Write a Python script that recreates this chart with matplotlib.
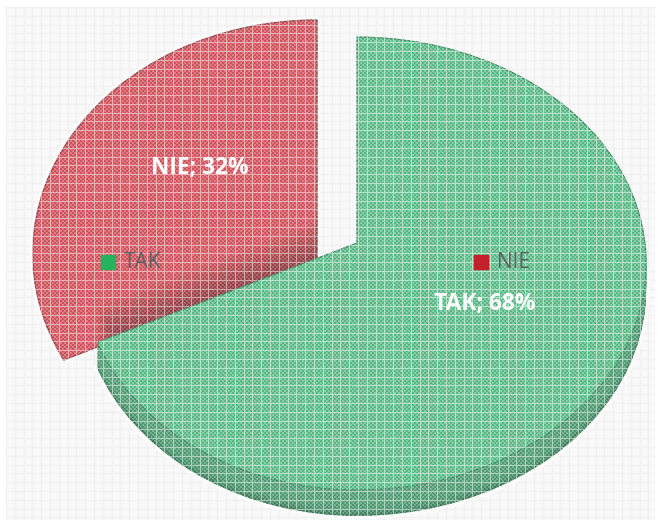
#!/usr/bin/env python3
import numpy as np
import matplotlib
matplotlib.use("Agg")
import matplotlib.pyplot as plt
from matplotlib.patches import Rectangle
from matplotlib.transforms import Affine2D, Transform

categories = ["TAK", "NIE"]
shares = [68, 32]
slice_labels = ["TAK; 68%", "NIE; 32%"]
slice_colors = ["#6ccb98", "#e2636c"]
legend_colors = ["#27b35e", "#c5202a"]

W, H = 660, 526
GRID = 8.8


class Perspective(Transform):
    """Tilt the unit-circle pie into pixel space, near edge bigger than far edge."""
    input_dims = output_dims = 2

    def __init__(self, cx, cy, kx_left, kx_right, ky, c):
        super().__init__()
        self.cx, self.cy, self.kl, self.kr, self.ky, self.c = cx, cy, kx_left, kx_right, ky, c

    def transform_non_affine(self, xy):
        xy = np.asarray(xy, dtype=float)
        w = 1 + self.c * xy[:, 1]
        kx = np.where(xy[:, 0] < 0, self.kl, self.kr)
        return np.column_stack([self.cx + kx * xy[:, 0] / w, self.cy - self.ky * xy[:, 1] / w])


green_view = Perspective(357, 243, 276, 288, 224.6, 0.0904)
red_view = Perspective(317, 262, 284, 284, 233.5, -0.035)

fig = plt.figure(figsize=(W / 100, H / 100), dpi=100, facecolor="white")
ax = fig.add_axes([0, 0, 1, 1])


def draw_slice(i, view, color, dy=0, zorder=2, **wedgeprops):
    # both slices come from the same pie() call, only slice i is kept
    wedges, _ = ax.pie(shares, startangle=90, counterclock=False,
                       colors=[color, color], wedgeprops=wedgeprops)
    wedges[1 - i].remove()
    wedge = wedges[i]
    wedge.set_transform(view + Affine2D().translate(0, dy) + ax.transData)
    wedge.set_zorder(zorder)
    return wedge


# pale halo round the shapes
draw_slice(1, red_view, "#fcfcfc", zorder=1.5, edgecolor="#fcfcfc", lw=5)
draw_slice(0, green_view, "#fcfcfc", dy=26, zorder=1.5, edgecolor="#fcfcfc", lw=5)

# side wall of the green slice, darkest at the bottom rim
depth = 26
for d in range(depth, 0, -1):
    t = d / depth
    col = (0.38 - 0.12 * t**6, 0.68 - 0.17 * t**6, 0.52 - 0.14 * t**6)
    draw_slice(0, green_view, col, dy=d, zorder=2)

red = draw_slice(1, red_view, slice_colors[1], zorder=3, edgecolor="#a85058", lw=1)
green = draw_slice(0, green_view, slice_colors[0], zorder=5, edgecolor="#4c9a72", lw=0.8)

# shadow the green slice throws on the red one
for k in range(3, 39, 3):
    sh = draw_slice(0, green_view, "#2a2a2a", dy=-k, zorder=4, alpha=0.035, edgecolor="none")
    sh.set_clip_on(True)
    sh.set_clip_path(red)

# pie() resets these
ax.set_aspect("auto")
ax.set_xlim(0, W)
ax.set_ylim(H, 0)
ax.axis("off")

# grey paper with faint lattice
ax.add_patch(Rectangle((6, 7), 649, 513, fc="#f9f9f9", ec="none", zorder=0))
xs = np.arange(6, 655, GRID)
ys = np.arange(7, 520, GRID)
ax.vlines(xs, 7, 520, color="#f1f1f1", lw=1, zorder=1)
ax.hlines(ys, 6, 655, color="#f1f1f1", lw=1, zorder=1)

# dither and white lattice only where the picture is coloured
fig.canvas.draw()
rgb = np.asarray(fig.canvas.buffer_rgba())[..., :3].astype(int)
coloured = (rgb.max(axis=2) - rgb.min(axis=2)) > 30

yy, xx = np.mgrid[0:H, 0:W]
checker = (xx // 2 + yy // 2) % 2
overlay = np.zeros((H, W, 4))
overlay[..., :3] = checker[..., None]
overlay[..., 3] = np.where(checker > 0, 0.14, 0.12) * coloured
col_lines = np.round(xs).astype(int)
row_lines = np.round(ys).astype(int)
overlay[:, col_lines, :3] = 1
overlay[:, col_lines, 3] = 0.5 * coloured[:, col_lines]
overlay[row_lines, :, :3] = 1
overlay[row_lines, :, 3] = 0.5 * coloured[row_lines, :]
ax.imshow(overlay, extent=(0, W, H, 0), zorder=6, interpolation="nearest", aspect="auto")

# legend sits inside the pie
ax.plot([108], [262], "s", ms=9.5, color=legend_colors[0], zorder=8)
ax.plot([481], [262], "s", ms=9.5, color=legend_colors[1], zorder=8)
ax.text(124, 263, categories[0], color="#5f5f5f", fontsize=15, family="Open Sans",
        va="center", zorder=8)
ax.text(497, 263, categories[1], color="#5f5f5f", fontsize=15, family="Open Sans",
        va="center", zorder=8)

# slice labels
ax.text(485, 304, slice_labels[0], color="white", fontsize=16.4, family="Open Sans",
        weight="bold", ha="center", va="center", zorder=8)
ax.text(200, 168, slice_labels[1], color="white", fontsize=16.4, family="Open Sans",
        weight="bold", ha="center", va="center", zorder=8)

fig.savefig("out.png", dpi=100)
